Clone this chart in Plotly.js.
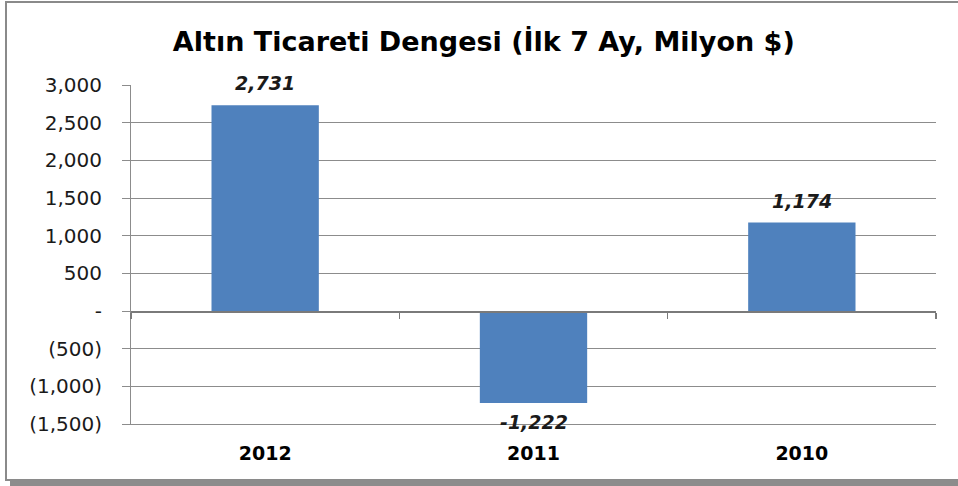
<!DOCTYPE html>
<html>
<head>
<meta charset="utf-8">
<script src="https://cdn.plot.ly/plotly-3.0.1.min.js"></script>
<style>
  html, body { margin: 0; padding: 0; background: #fff; overflow: hidden; }
  #wrap { position: relative; width: 958px; height: 486px; overflow: hidden; background: #fff; }
  #chart { width: 958px; height: 486px; }
  #frame { position: absolute; left: 5px; top: 1px; width: 953px; height: 480px;
           border-left: 2px solid #8a8a8a; border-top: 2px solid #8a8a8a; border-bottom: 2px solid #8a8a8a;
           box-sizing: border-box; pointer-events: none; }
  #shadow { position: absolute; left: 10px; top: 480px; width: 948px; height: 6px;
            background: #8c8c8c; pointer-events: none; }
</style>
</head>
<body>
<div id="wrap">
  <div id="chart"></div>
  <div id="frame"></div>
  <div id="shadow"></div>
</div>
<script>
const titleText = "Altın Ticareti Dengesi (İlk 7 Ay, Milyon $)";
const categories = ["2012", "2011", "2010"];
const values = [2731, -1222, 1174];
const valueLabels = ["2,731", "-1,222", "1,174"];
const yTickVals = [3000, 2500, 2000, 1500, 1000, 500, 0, -500, -1000, -1500];
const yTickText = ["3,000", "2,500", "2,000", "1,500", "1,000", "500", "-", "(500)", "(1,000)", "(1,500)"];
const catBoundaries = [-0.5, 0.5, 1.5, 2.5];

const font = "'DejaVu Sans', sans-serif";
const gridColor = "#8c8c8c";

const trace = {
  type: "bar",
  x: categories,
  y: values,
  width: 0.4,
  marker: { color: "#4F81BD", line: { width: 0 } },
  hoverinfo: "none"
};

const annotations = categories.map((c, i) => ({
  x: i, y: values[i], xref: "x", yref: "y",
  text: "<b><i>" + valueLabels[i] + "</i></b>",
  showarrow: false,
  yshift: values[i] >= 0 ? 22 : -19,
  font: { family: font, size: 19, color: "#1a1a1a" }
}));

const yMin = -1500, yMax = 3000;

const layout = {
  width: 958, height: 486,
  margin: { l: 131, r: 22, t: 85, b: 62 },
  paper_bgcolor: "#ffffff",
  plot_bgcolor: "#ffffff",
  showlegend: false,
  title: {
    text: "<b>" + titleText + "</b>",
    font: { family: font, size: 27, color: "#000000" },
    x: 0.505, xanchor: "center", y: 0.915, yanchor: "middle"
  },
  xaxis: {
    type: "category",
    categoryorder: "array", categoryarray: categories,
    range: [-0.5, 2.5],
    showgrid: false, zeroline: false,
    showline: true, linecolor: gridColor, linewidth: 1,
    ticks: "", ticklabelstandoff: 12,
    tickfont: { family: font, size: 19, color: "#000000", weight: "bold" }
  },
  xaxis2: {
    overlaying: "x", anchor: "free",
    position: (0 - yMin) / (yMax - yMin),
    range: [-0.5, 2.5],
    showgrid: false, zeroline: false,
    showline: true, linecolor: "#7a7a7a", linewidth: 1.5,
    ticks: "outside", ticklen: 6, tickcolor: "#7a7a7a", tickwidth: 1.5,
    tickmode: "array", tickvals: catBoundaries, showticklabels: false
  },
  yaxis: {
    range: [yMin, yMax],
    tickmode: "array", tickvals: yTickVals, ticktext: yTickText,
    showgrid: true, gridcolor: gridColor, gridwidth: 1,
    zeroline: false,
    showline: true, linecolor: gridColor, linewidth: 1,
    ticks: "outside", ticklen: 8, tickcolor: gridColor,
    ticklabelstandoff: 16,
    tickfont: { family: font, size: 20, color: "#1a1a1a" }
  },
  annotations: annotations
};

const dummy = { type: "scatter", x: [-0.5], y: [0], xaxis: "x2", yaxis: "y", mode: "none", hoverinfo: "none", showlegend: false };

Plotly.newPlot("chart", [trace, dummy], layout, { displayModeBar: false, staticPlot: true });
</script>
</body>
</html>
